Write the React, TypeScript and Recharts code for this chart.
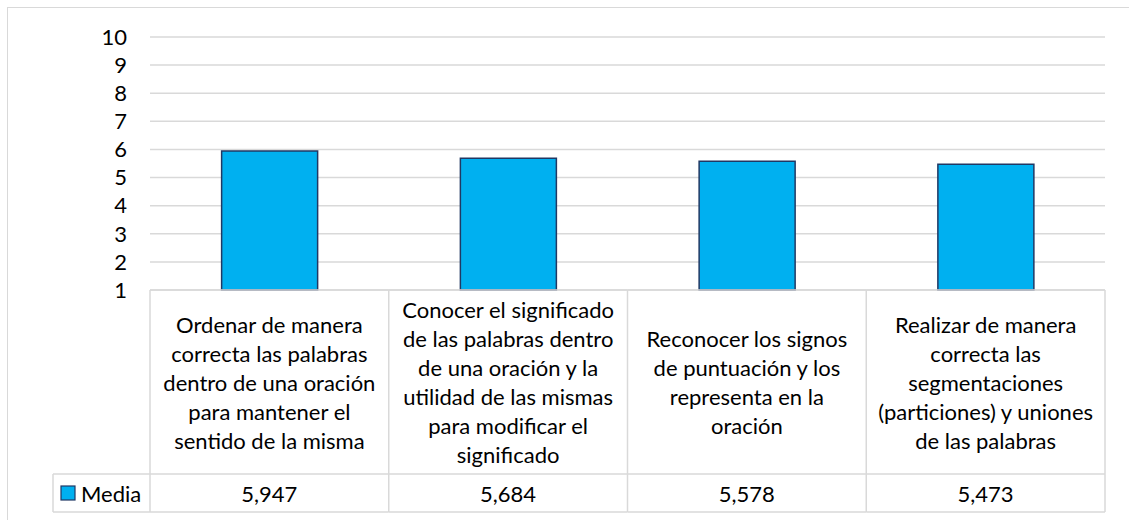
import { Bar, BarChart, CartesianGrid, XAxis, YAxis } from "recharts";

// Category labels, already broken into the lines shown in each table cell
const categoryLines: string[][] = [
  ["Ordenar de manera", "correcta las palabras", "dentro de una oración", "para mantener el", "sentido de la misma"],
  ["Conocer el significado", "de las palabras dentro", "de una oración y la", "utilidad de las mismas", "para modificar el", "significado"],
  ["Reconocer los signos", "de puntuación y los", "representa en la", "oración"],
  ["Realizar de manera", "correcta las", "segmentaciones", "(particiones) y uniones", "de las palabras"],
];
const media = [5.947, 5.684, 5.578, 5.473];
const seriesName = "Media";
const yTicks = [1, 2, 3, 4, 5, 6, 7, 8, 9, 10];

const data = categoryLines.map((lines, i) => ({
  name: lines.join(" "),
  media: media[i],
}));

const WIDTH = 1129;
const HEIGHT = 520;
const PLOT_LEFT = 150;
const PLOT_RIGHT = 1105;
const COL_W = (PLOT_RIGHT - PLOT_LEFT) / categoryLines.length;
const CAT_ROW_H = 184;
const VAL_ROW_H = 38;
const TABLE_H = CAT_ROW_H + VAL_ROW_H;
const LEGEND_W = 97;
const LINE_H = 29;

const GRID = "#d9d9d9";
const FILL = "#00b0f0";
const EDGE = "#203864";
const FONT = "Lato, 'Open Sans', sans-serif";
const FONT_SIZE = 22;

const fmt = (v: number) => v.toFixed(3).replace(".", ",");

// Draws one column of the data table under the plot
function TableTick(props: any) {
  const { x, y, payload } = props;
  const i: number = payload.index;
  const left = x - COL_W / 2;
  const right = x + COL_W / 2;
  const lines = categoryLines[i];
  const firstY = y + CAT_ROW_H / 2 - ((lines.length - 1) * LINE_H) / 2;
  const valY = y + CAT_ROW_H + VAL_ROW_H / 2;
  const isFirst = i === 0;
  const isLast = i === categoryLines.length - 1;
  const rowLeft = isFirst ? left - LEGEND_W : left;

  return (
    <g fontFamily={FONT} fontSize={FONT_SIZE} fill="#000">
      <line x1={left} y1={y} x2={right} y2={y} stroke={GRID} strokeWidth={1.5} />
      <line x1={left} y1={y} x2={left} y2={y + TABLE_H} stroke={GRID} strokeWidth={1.5} />
      {isLast && (
        <line x1={right} y1={y} x2={right} y2={y + TABLE_H} stroke={GRID} strokeWidth={1.5} />
      )}
      <line x1={rowLeft} y1={y + CAT_ROW_H} x2={right} y2={y + CAT_ROW_H} stroke={GRID} strokeWidth={1.5} />
      <line x1={rowLeft} y1={y + TABLE_H} x2={right} y2={y + TABLE_H} stroke={GRID} strokeWidth={1.5} />
      {lines.map((line, k) => (
        <text key={k} x={x} y={firstY + k * LINE_H} textAnchor="middle" dominantBaseline="central" fill="#000">
          {line}
        </text>
      ))}
      <text x={x} y={valY} textAnchor="middle" dominantBaseline="central" fill="#000">
        {fmt(media[i])}
      </text>
      {isFirst && (
        <g>
          <line x1={rowLeft} y1={y + CAT_ROW_H} x2={rowLeft} y2={y + TABLE_H} stroke={GRID} strokeWidth={1.5} />
          <rect x={rowLeft + 8} y={valY - 7} width={14} height={14} fill={FILL} stroke={EDGE} strokeWidth={1.2} />
          <text x={rowLeft + 28} y={valY} dominantBaseline="central" fill="#000">
            {seriesName}
          </text>
        </g>
      )}
    </g>
  );
}

export default function App() {
  return (
    <div style={{ position: "fixed", inset: 0, overflow: "hidden", background: "#fff" }}>
      <div
        style={{
          position: "absolute",
          left: 7,
          top: 7,
          width: 1300,
          height: 700,
          borderTop: `1.5px solid ${GRID}`,
          borderLeft: `1.5px solid ${GRID}`,
        }}
      />
      <div style={{ position: "absolute", left: 0, top: 0 }}>
        <BarChart
          width={WIDTH}
          height={HEIGHT}
          data={data}
          margin={{ top: 37, right: WIDTH - PLOT_RIGHT, bottom: HEIGHT - 290 - TABLE_H, left: 0 }}
          barCategoryGap="30%"
        >
          <CartesianGrid vertical={false} stroke={GRID} strokeWidth={1.5} />
          <XAxis
            dataKey="name"
            height={TABLE_H}
            axisLine={false}
            tickLine={false}
            tickSize={0}
            tickMargin={0}
            interval={0}
            tick={<TableTick />}
          />
          <YAxis
            width={PLOT_LEFT}
            domain={[1, 10]}
            ticks={yTicks}
            interval={0}
            axisLine={false}
            tickLine={false}
            tickMargin={17}
            tick={{ fill: "#000", fontSize: FONT_SIZE, fontFamily: FONT }}
          />
          <Bar
            dataKey="media"
            name={seriesName}
            fill={FILL}
            stroke={EDGE}
            strokeWidth={1.5}
            isAnimationActive={false}
          />
        </BarChart>
      </div>
    </div>
  );
}
